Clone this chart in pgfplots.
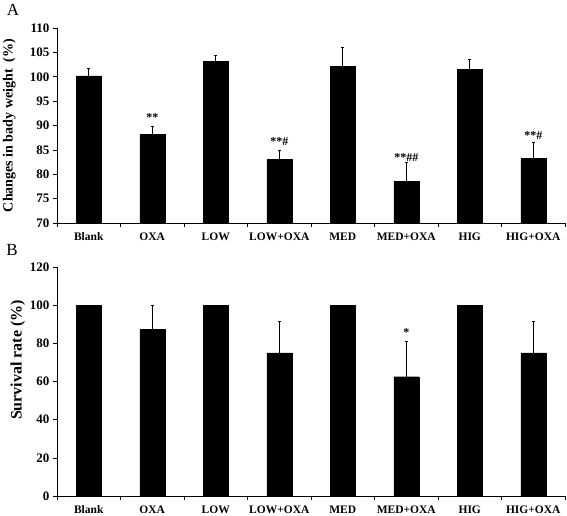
\documentclass[border=0pt]{standalone}
\usepackage{pgfplots}
\pgfplotsset{compat=1.18}
\usepackage{fontspec}
\setmainfont{Liberation Serif}
\begin{document}
\begin{tikzpicture}
\path[use as bounding box] (0pt,0pt) rectangle (567pt,-515pt);
\pgfplotsset{
 myax/.style={
  scale only axis, width=508pt, xmin=-0.5, xmax=7.5,
  axis lines*=left, axis line style={black, line width=0.6pt},
  xtick={0,...,7},
  xticklabels={Blank,OXA,LOW,LOW+OXA,MED,MED+OXA,HIG,HIG+OXA},
  major x tick style={draw=none},
  minor xtick={-0.5,0.5,...,7.5},
  tick align=outside, minor tick length=4pt, major tick length=4pt,
  tick style={black, line width=0.6pt},
  xticklabel style={font=\fontsize{11.5}{13}\selectfont\bfseries, yshift=-2pt},
  yticklabel style={font=\fontsize{13}{15}\selectfont\bfseries},
  /pgf/number format/assume math mode=true,
  ybar, bar width=25pt,
 },
 mybar/.style={fill=black, draw=black,
  error bars/.cd, y dir=plus, y explicit,
  error bar style={black, line width=0.8pt},
  error mark options={rotate=90, black, mark size=1.5pt, line width=0.8pt}}
}
\node[font=\fontsize{17}{19}\selectfont] at (13pt,-10pt) {A};
\node[font=\fontsize{17}{19}\selectfont] at (12pt,-250pt) {B};
\begin{axis}[myax, at={(57pt,-223pt)}, anchor=south west, height=195pt,
  ymin=70, ymax=110, ytick={70,75,...,110},
  ylabel={Changes in bady weight\ \ (\%)},
  ylabel style={font=\fontsize{14}{16}\selectfont\bfseries, at={(axis description cs:-0.094,0.5)}, anchor=center}]
\addplot[mybar] table[x=x,y=y,y error=e] {
x y e
0 100.2 1.6
1 88.2 1.7
2 103.2 1.1
3 83.0 1.8
4 102.2 3.8
5 78.6 3.9
6 101.5 2.1
7 83.2 3.4
};
\node[font=\fontsize{12}{14}\selectfont\bfseries] at (axis cs:1,91.6) {**};
\node[font=\fontsize{12}{14}\selectfont\bfseries] at (axis cs:3,86.7) {**\#};
\node[font=\fontsize{12}{14}\selectfont\bfseries] at (axis cs:5,83.5) {**\#\#};
\node[font=\fontsize{12}{14}\selectfont\bfseries] at (axis cs:7,88.0) {**\#};
\end{axis}
\begin{axis}[myax, at={(57pt,-496pt)}, anchor=south west, height=229pt,
  ymin=0, ymax=120, ytick={0,20,...,120},
  ylabel={Survival rate (\%)},
  ylabel style={font=\fontsize{16}{18}\selectfont\bfseries, at={(axis description cs:-0.077,0.594)}, anchor=center}]
\addplot[mybar] table[x=x,y=y,y error=e] {
x y e
0 100 0
1 87.5 12.5
2 100 0
3 75 16.4
4 100 0
5 62.5 18.4
6 100 0
7 75 16.4
};
\node[font=\fontsize{12}{14}\selectfont\bfseries] at (axis cs:5,85.5) {*};
\end{axis}
\end{tikzpicture}
\end{document}
